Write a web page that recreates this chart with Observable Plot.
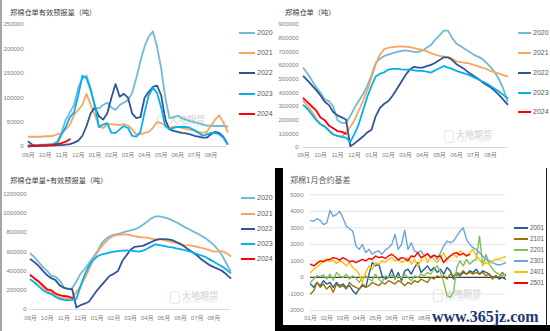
<!DOCTYPE html>
<html><head><meta charset="utf-8">
<script src="https://cdn.jsdelivr.net/npm/d3@7"></script>
<script src="https://cdn.jsdelivr.net/npm/@observablehq/plot@0.6"></script>
<style>
body{margin:0;background:#fff;}
#root{position:relative;width:550px;height:331px;overflow:hidden;background:#fff;}
#root svg{position:absolute;}
</style></head>
<body><div id="root"></div>
<script>
// ---------- labels ----------
const seasonMonths = ["09月","10月","11月","12月","01月","02月","03月","04月","05月","06月","07月","08月"];
// only the month labels visible in the reference (the rest sit under the site watermark)
const basisMonths = ["01月","02月","03月","04月","05月","06月","07月","08月"];
const years = ["2020","2021","2022","2023","2024"];
const contracts = ["2001","2101","2201","2301","2401","2501"];

// ---------- panel 1: 有效预报 (thousand tonnes, every quarter month from 09月) ----------
const fc2020 = [3,3,3,4,4,5,6,10,30,55,70,85,120,140,145,120,80,78,85,90,80,75,85,90,95,110,140,175,205,225,236,205,160,100,58,60,63,58,55,52,50,48,45,43,42,42,42,42,41];
const fc2021 = [20,20,20,20,21,21,22,25,28,35,45,65,75,85,108,85,65,40,38,45,46,45,44,46,43,35,25,25,28,30,38,50,48,43,38,40,40,38,36,34,33,30,28,30,42,55,64,50,30];
const fc2022 = [10,3,2,2,2,2,2,3,3,4,5,8,12,22,42,68,80,62,55,68,100,128,102,108,100,68,58,60,100,112,122,125,105,55,35,32,30,28,27,25,22,20,18,18,25,30,28,20,5];
const fc2023 = [2,1,1,2,2,3,4,8,25,40,60,70,105,145,140,115,85,40,45,48,28,28,35,42,38,22,20,30,70,105,120,110,80,42,35,38,40,40,40,38,33,28,22,25,28,28,25,18,5];
const fc2024 = [0,1,1,2,2,3,4,5,7,10,15];

// ---------- panel 2: 仓单 (thousand tonnes) ----------
const wr2020 = [580,540,490,440,400,350,340,300,200,180,180,230,290,340,390,450,530,620,650,670,680,690,700,705,710,705,700,700,710,730,750,790,820,855,855,800,760,740,720,700,680,665,650,620,590,550,500,430,340];
const wr2021 = [340,300,260,210,170,150,120,95,85,80,110,150,200,270,340,420,510,610,680,720,730,735,738,740,738,735,728,720,715,705,690,680,670,665,660,650,630,625,620,615,605,595,585,575,560,550,540,530,520];
const wr2022 = [520,490,455,420,380,335,310,260,235,220,205,10,30,55,80,110,130,230,290,320,340,380,430,480,530,570,590,585,585,595,605,620,640,660,660,640,610,590,570,545,525,505,480,460,440,415,385,350,315];
const wr2023 = [310,280,240,200,170,155,125,95,85,78,72,40,100,170,270,370,450,520,540,550,570,575,575,572,570,570,565,560,560,555,548,565,580,595,585,575,560,550,540,530,515,500,485,470,450,430,410,385,360];
const wr2024 = [360,330,300,270,220,200,160,140,120,115,100];

// ---------- panel 3: 仓单+有效预报 (thousand tonnes) ----------
const tt2020 = [580,540,490,440,400,350,340,300,230,215,220,290,370,420,480,540,600,680,730,760,775,785,795,810,820,830,850,880,910,945,965,965,955,945,925,905,880,855,835,810,790,765,740,705,670,620,560,480,400];
const tt2021 = [360,320,280,230,195,170,145,125,115,110,120,180,240,320,410,510,590,650,700,740,765,775,780,778,770,760,752,748,745,735,728,730,720,708,700,690,675,668,665,660,650,640,630,615,600,600,605,585,555];
const tt2022 = [520,490,450,400,355,325,305,250,225,215,210,20,45,60,80,140,200,250,300,350,370,400,500,560,620,650,655,660,680,700,720,730,730,728,720,700,680,650,620,590,560,520,490,460,440,420,400,365,325];
const tt2023 = [310,280,240,200,175,160,130,110,100,95,100,110,240,360,450,510,550,570,580,590,600,605,610,612,610,605,600,610,630,655,675,668,660,650,645,635,625,615,605,590,575,560,545,520,495,470,445,415,380];
const tt2024 = [355,320,290,250,210,200,165,150,140,135,120];

// ---------- panel 4: 1月合约基差 (yuan/t, every 0.2 month from 01月) ----------
const b2001 = [-400,-600,-300,-500,-200,-400,-300,-600,-300,-500,-400,-600,-500,-800,-1000,-700,-500,-600,200,900,700,800,100,-100,0,500,-100,300,-200,400,500,200,600,900,300,500,700,400,600,300,500,200,600,400,-100,200,100,300,200,400,300,500,200,400,300,200,0,100,-100,0,-100];
const b2101 = [-1000,-800,-300,-600,-400,-700,-500,-900,-400,-600,-500,-700,-300,-500,-600,-700,-400,-600,-500,-300,-400,-500,-300,-400,-200,-300,-400,-200,-300,-500,-300,-400,-200,-300,-100,-200,-300,0,-100,100,0,100,-100,200,100,300,200,400,200,300,200,300,200,300,100,200,-100,100,0,300,100];
const b2201 = [-300,-100,100,50,150,-100,200,-150,300,100,0,200,-100,100,-50,-300,0,100,-100,-200,200,-100,-300,100,0,150,-100,100,-50,200,0,-200,100,0,200,100,300,200,500,700,300,-300,-1100,-1200,-900,600,1000,700,1100,800,1000,1100,2500,700,1400,800,500,300,200,100,200];
const b2301 = [3450,3400,3550,3450,3200,3300,4050,3700,3800,4000,3600,3100,2950,2800,1900,1700,2000,1500,1700,1400,1550,1600,1400,1650,1800,2000,2600,1700,2000,2850,1700,2100,1600,1500,1600,1300,1400,1200,1350,1100,1500,1900,2200,2100,2200,2500,2800,3000,2300,2000,1800,1700,1500,1300,1100,1000,900,800,750,800,900];
const b2401 = [300,500,650,800,1000,1150,950,1050,850,1000,900,700,900,600,450,200,-300,300,700,500,900,800,1000,900,1100,1200,1000,1100,900,1000,1200,800,1100,700,1000,1400,900,1300,1100,900,1200,1500,1000,1300,1400,1200,1600,1500,1300,1500,1700,1300,1100,800,900,800,1000,1100,1100,1200,1250];
const b2501 = [800,700,850,1000,950,1050,1100,1200,1150,1050,1200,1100,950,1000,900,1000,1100,1000,1150,1100,1300,1200,1250,1150,1300,1400,1250,1050,1200,1150,1000,1300,1250,1500,1200,1300,1450,1200,1350,1250,1300,900,1150,1300,1450,1500,1350,1450,1300,1400];

const yTicks1 = [0,50000,100000,150000,200000,250000];
const yTicks2 = [0,100000,200000,300000,400000,500000,600000,700000,800000,900000];
const yTicks3 = [0,200000,400000,600000,800000,1000000,1200000];
const yTicks4 = [-2000,-1000,0,1000,2000,3000,4000,5000];

// ---------- styling ----------
const yearColors = ["#70bad4","#f7a560","#2f5597","#00b0f0","#ff0000"];
const contractColors = ["#255e91","#9c7300","#82bf55","#69a5de","#ffc000","#ff0000"];
const LATIN = '"Liberation Sans", Arial, "Noto Sans CJK SC", sans-serif';
const CJK = '"Noto Sans CJK SC", "Liberation Sans", sans-serif';
const root = document.getElementById("root");

function build(names, arrays, step, scale) {
  return arrays.flatMap((arr, k) => arr.map((v, i) => ({m: i * step, v: v * scale, s: names[k]})));
}

function div(css, txt) {
  const d = document.createElement("div");
  if (txt != null) d.textContent = txt;
  Object.assign(d.style, {position: "absolute", whiteSpace: "nowrap"}, css);
  root.appendChild(d);
  return d;
}
function text(str, x, yc, size, color, font, extra = {}) {
  return div(Object.assign({left: x + "px", top: (yc - size * 0.6) + "px", fontSize: size + "px",
    lineHeight: (size * 1.2) + "px", color, fontFamily: font}, extra), str);
}

function panel(o) {
  const marks = [];
  if (o.grid) marks.push(Plot.gridY(o.yTicks, {stroke: "#d9d9d9", strokeOpacity: 1, strokeWidth: 0.8}));
  marks.push(Plot.axisY(o.yTicks, {tickSize: 0, tickPadding: o.yPad, tickFormat: d => String(d), label: null, fill: "#808080"}));
  marks.push(Plot.axisX(d3.range(o.xLabels.length), {tickSize: 0, tickPadding: o.xPad, tickFormat: i => o.xLabels[i], label: null, fill: "#808080"}));
  marks.push(Plot.ruleY([0], {stroke: o.zeroColor, strokeWidth: o.zeroWidth}));
  marks.push(Plot.line(o.data, {x: "m", y: "v", z: "s", stroke: "s", strokeWidth: o.sw, strokeLinejoin: "round"}));
  const svg = Plot.plot({
    width: o.width, height: o.height,
    marginLeft: o.mL, marginRight: o.mR, marginTop: o.mT, marginBottom: o.mB,
    x: {domain: [0, 12], axis: null},
    y: {domain: o.yDomain, axis: null},
    color: {domain: o.names, range: o.colors},
    style: {background: "transparent", fontFamily: LATIN, fontSize: "6px", overflow: "visible"},
    marks
  });
  svg.style.left = o.left + "px";
  svg.style.top = o.top + "px";
  root.appendChild(svg);
}

function legend(names, colors, x, ys, swLen, size, thick) {
  names.forEach((n, i) => {
    div({left: x + "px", top: (ys[i] - thick / 2) + "px", width: swLen + "px", height: thick + "px", background: colors[i]});
    text(n, x + swLen + 2, ys[i], size, "#595959", LATIN);
  });
}

function logo(x, y) {
  div({left: x + "px", top: (y - 6) + "px", width: "8px", height: "11px", border: "1px solid #ecdcc4", borderRadius: "3px", opacity: 0.8});
  text("大地期货", x + 12, y - 1, 9, "#dcdcdc", CJK, {fontWeight: "bold"});
  text("DADI FUTURES", x + 13, y + 5.5, 3.5, "#e2e2e2", LATIN, {letterSpacing: "0.6px"});
}

// left grey rule
div({left: "0px", top: "0px", width: "1.5px", height: "331px", background: "#a6a6a6"});

// logos (behind lines)
logo(157, 121);
logo(444, 136);
logo(170, 297);
logo(433, 295);

// ---- panel 1 ----
panel({left: 0, top: 0, width: 240, height: 165, mL: 28, mR: 13, mT: 24, mB: 19,
  yDomain: [0, 250000], yTicks: yTicks1, yPad: 5, xPad: 6, xLabels: seasonMonths,
  names: years, colors: yearColors, sw: 1.8, zeroColor: "#d9d9d9", zeroWidth: 1,
  data: build(years, [fc2020, fc2021, fc2022, fc2023, fc2024], 0.25, 1000)});
text("郑棉仓单有效预报量（吨）", 10, 12, 7.2, "#404040", CJK);
legend(years, yearColors, 239, [33, 53, 73, 94, 114], 16, 7, 2);

// ---- panel 2 ----
panel({left: 275, top: 0, width: 240, height: 165, mL: 28, mR: 8, mT: 24, mB: 18,
  yDomain: [0, 900000], yTicks: yTicks2, yPad: 5, xPad: 5, xLabels: seasonMonths,
  names: years, colors: yearColors, sw: 1.8, zeroColor: "#d9d9d9", zeroWidth: 1,
  data: build(years, [wr2020, wr2021, wr2022, wr2023, wr2024], 0.25, 1000)});
text("郑棉仓单（吨）", 285, 12, 7.2, "#404040", CJK);
legend(years, yearColors, 518, [33, 53, 73, 93, 112], 13, 7, 2);

// ---- panel 3 ----
panel({left: 0, top: 165, width: 240, height: 166, mL: 30, mR: 10, mT: 28.3, mB: 22,
  yDomain: [0, 1200000], yTicks: yTicks3, yPad: 4, xPad: 6, xLabels: seasonMonths,
  names: years, colors: yearColors, sw: 1.8, zeroColor: "#d9d9d9", zeroWidth: 1,
  data: build(years, [tt2020, tt2021, tt2022, tt2023, tt2024], 0.25, 1000)});
text("郑棉仓单量+有效预报量（吨）", 10, 180, 7.2, "#404040", CJK);
legend(years, yearColors, 241, [198, 214, 229, 244, 259], 14, 7, 2);

// ---- panel 4 ----
panel({left: 275, top: 165, width: 240, height: 160, mL: 35, mR: 10, mT: 29.3, mB: 15,
  yDomain: [-2000, 5000], yTicks: yTicks4, yPad: 7, xPad: 5, xLabels: basisMonths, grid: true,
  names: contracts, colors: contractColors, sw: 1.4, zeroColor: "#404040", zeroWidth: 1.3,
  data: build(contracts, [b2001, b2101, b2201, b2301, b2401, b2501], 0.2, 1)});
text("郑棉1月合约基差", 290, 180, 8, "#595959", CJK);
legend(contracts, contractColors, 514, [228, 239, 250, 261, 272, 283], 14, 6.3, 1.8);

// black frame of panel 4
div({left: "275px", top: "168px", width: "7.5px", height: "163px", background: "#000"});
div({left: "275px", top: "324.5px", width: "275px", height: "6.5px", background: "#000"});
div({left: "546px", top: "168px", width: "1px", height: "157px", background: "#222"});

// site watermark
div({left: "431px", top: "307px", width: "114px", height: "17px", background: "#fff"});
text("www.365jz.com", 432, 316, 16, "#1b3a72", '"Liberation Serif", "DejaVu Serif", serif', {fontWeight: "bold", transform: "scaleY(1.1)"});
</script>
</body></html>
